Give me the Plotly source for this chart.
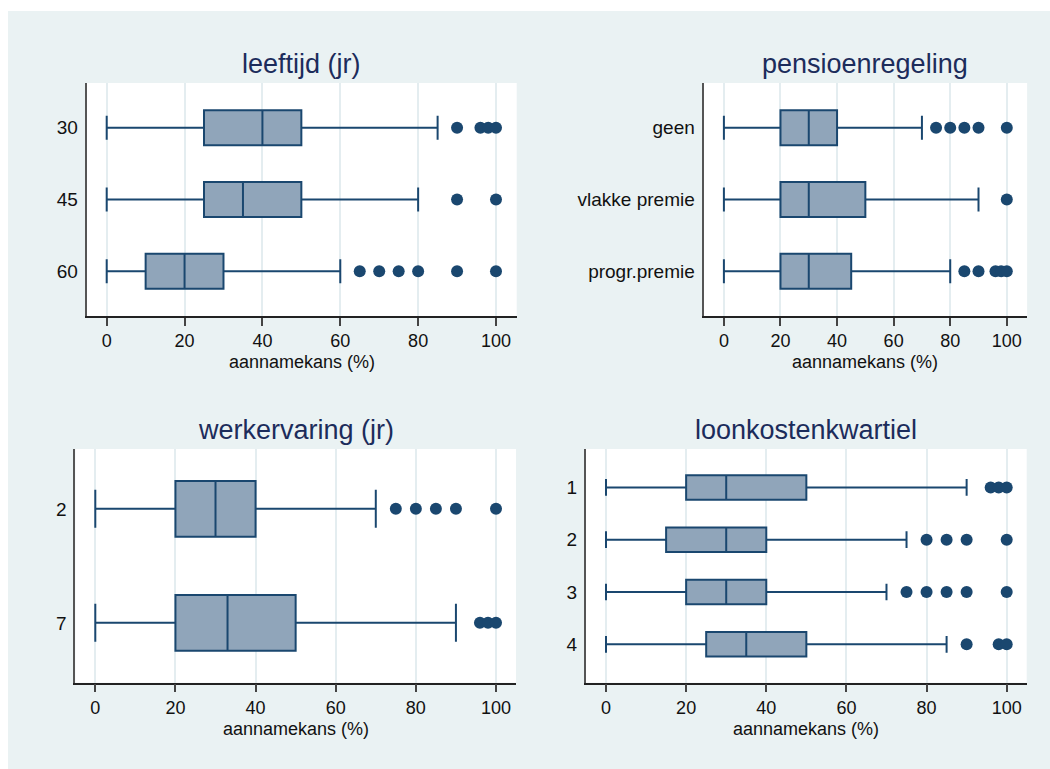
import plotly.graph_objects as go

W, H = 1050, 769

# ---- data: acceptance chance (%) by characteristic ----
# leeftijd (jr)
age_labels = ["30", "45", "60"]
age_min = [0, 0, 0]
age_q1 = [25, 25, 10]
age_med = [40, 35, 20]
age_q3 = [50, 50, 30]
age_max = [85, 80, 60]
age_out = [[90, 96, 98, 100], [90, 100], [65, 70, 75, 80, 90, 100]]

# pensioenregeling
pen_labels = ["geen", "vlakke premie", "progr.premie"]
pen_min = [0, 0, 0]
pen_q1 = [20, 20, 20]
pen_med = [30, 30, 30]
pen_q3 = [40, 50, 45]
pen_max = [70, 90, 80]
pen_out = [[75, 80, 85, 90, 100], [100], [85, 90, 96, 98, 100]]

# werkervaring (jr)
exp_labels = ["2", "7"]
exp_min = [0, 0]
exp_q1 = [20, 20]
exp_med = [30, 33]
exp_q3 = [40, 50]
exp_max = [70, 90]
exp_out = [[75, 80, 85, 90, 100], [96, 98, 100]]

# loonkostenkwartiel
wage_labels = ["1", "2", "3", "4"]
wage_min = [0, 0, 0, 0]
wage_q1 = [20, 15, 20, 25]
wage_med = [30, 30, 30, 35]
wage_q3 = [50, 40, 40, 50]
wage_max = [90, 75, 70, 85]
wage_out = [[96, 98, 100], [80, 85, 90, 100], [75, 80, 85, 90, 100], [90, 98, 100]]

x_ticks = [0, 20, 40, 60, 80, 100]
x_title = "aannamekans (%)"

# ---- styling ----
NAVY = "#1A476F"
FILL = "#90A5BA"
BG = "#EAF2F3"
TITLE_COLOR = "#1C2C5B"
FONT = "Liberation Sans, Arial, sans-serif"
LABEL_SIZE = 18


def px_x(p):
    return p / W


def px_y(p):
    return 1 - p / H


# panel geometry in pixels: (left, right, top, bottom, x at 0, x at 100)
panels = [
    dict(title="leeftijd (jr)", labels=age_labels, mn=age_min, q1=age_q1, med=age_med,
         q3=age_q3, mx=age_max, out=age_out,
         L=86.7, R=516.7, T=83, B=316, x0=106.7, x100=496.0, pad=0.625, bw=0.49),
    dict(title="pensioenregeling", labels=pen_labels, mn=pen_min, q1=pen_q1, med=pen_med,
         q3=pen_q3, mx=pen_max, out=pen_out,
         L=703.6, R=1027.1, T=83, B=316, x0=723.9, x100=1006.8, pad=0.625, bw=0.49),
    dict(title="werkervaring (jr)", labels=exp_labels, mn=exp_min, q1=exp_q1, med=exp_med,
         q3=exp_q3, mx=exp_max, out=exp_out,
         L=75.3, R=516.0, T=449, B=682.7, x0=95.3, x100=496.0, pad=0.525, bw=0.49),
    dict(title="loonkostenkwartiel", labels=wage_labels, mn=wage_min, q1=wage_q1, med=wage_med,
         q3=wage_q3, mx=wage_max, out=wage_out,
         L=586.0, R=1026.7, T=449, B=682.7, x0=606.0, x100=1006.7, pad=0.735, bw=0.47),
]

fig = go.Figure()
layout_axes = {}
annotations = []

for i, p in enumerate(panels, start=1):
    xa = "x" if i == 1 else f"x{i}"
    ya = "y" if i == 1 else f"y{i}"
    n = len(p["labels"])
    pos = list(range(n))

    fig.add_trace(go.Box(
        y=pos, q1=p["q1"], median=p["med"], q3=p["q3"],
        lowerfence=p["mn"], upperfence=p["mx"],
        orientation="h", boxpoints=False,
        width=p["bw"], whiskerwidth=0.68,
        fillcolor=FILL, line=dict(color=NAVY, width=2),
        xaxis=xa, yaxis=ya, showlegend=False, hoverinfo="skip",
    ))

    ox, oy = [], []
    for k, vals in enumerate(p["out"]):
        ox.extend(vals)
        oy.extend([k] * len(vals))
    fig.add_trace(go.Scatter(
        x=ox, y=oy, mode="markers",
        marker=dict(color=NAVY, size=12, line=dict(width=0)),
        xaxis=xa, yaxis=ya, showlegend=False, hoverinfo="skip",
    ))

    scale = (p["x100"] - p["x0"]) / 100.0
    r0 = -(p["x0"] - p["L"]) / scale
    r1 = 100 + (p["R"] - p["x100"]) / scale

    xkey = "xaxis" if i == 1 else f"xaxis{i}"
    ykey = "yaxis" if i == 1 else f"yaxis{i}"
    layout_axes[xkey] = dict(
        domain=[px_x(p["L"]), px_x(p["R"])], anchor=ya, range=[r0, r1],
        showline=True, linecolor="#222222", linewidth=1.5,
        ticks="outside", ticklen=8, tickwidth=1.5, tickcolor="#444444",
        tickvals=x_ticks, showgrid=True, gridcolor="#E4EDF0", gridwidth=1.5,
        zeroline=False, tickfont=dict(family=FONT, size=LABEL_SIZE, color="#111111"),
        fixedrange=True,
    )
    layout_axes[ykey] = dict(
        domain=[px_y(p["B"]), px_y(p["T"])], anchor=xa,
        range=[n - 1 + p["pad"], -p["pad"]],
        showline=True, linecolor="#555555", linewidth=2,
        ticks="outside", ticklen=3, tickcolor="rgba(0,0,0,0)",
        tickvals=pos, ticktext=p["labels"], showgrid=False, zeroline=False,
        tickfont=dict(family=FONT, size=LABEL_SIZE + 1, color="#111111"), fixedrange=True,
    )

    cx = px_x((p["L"] + p["R"]) / 2)
    # panel title
    annotations.append(dict(
        text=p["title"], xref="paper", yref="paper",
        x=cx, y=px_y(p["T"] - 19),
        xanchor="center", yanchor="middle", showarrow=False,
        font=dict(family=FONT, size=27, color=TITLE_COLOR),
    ))
    # x-axis title
    annotations.append(dict(
        text=x_title, xref="paper", yref="paper",
        x=cx, y=px_y(p["B"] + 46),
        xanchor="center", yanchor="middle", showarrow=False,
        font=dict(family=FONT, size=LABEL_SIZE, color="#111111"),
    ))

# white strips along the top and left edge of the page
shapes = [
    dict(type="rect", xref="paper", yref="paper", x0=0, x1=1, y0=px_y(11), y1=1,
         fillcolor="white", line=dict(width=0), layer="below"),
    dict(type="rect", xref="paper", yref="paper", x0=0, x1=px_x(8), y0=0, y1=1,
         fillcolor="white", line=dict(width=0), layer="below"),
]

fig.update_layout(
    width=W, height=H, margin=dict(l=0, r=0, t=0, b=0),
    paper_bgcolor=BG, plot_bgcolor="white",
    annotations=annotations, shapes=shapes,
    font=dict(family=FONT),
    **layout_axes,
)

fig.write_html("out.html")
